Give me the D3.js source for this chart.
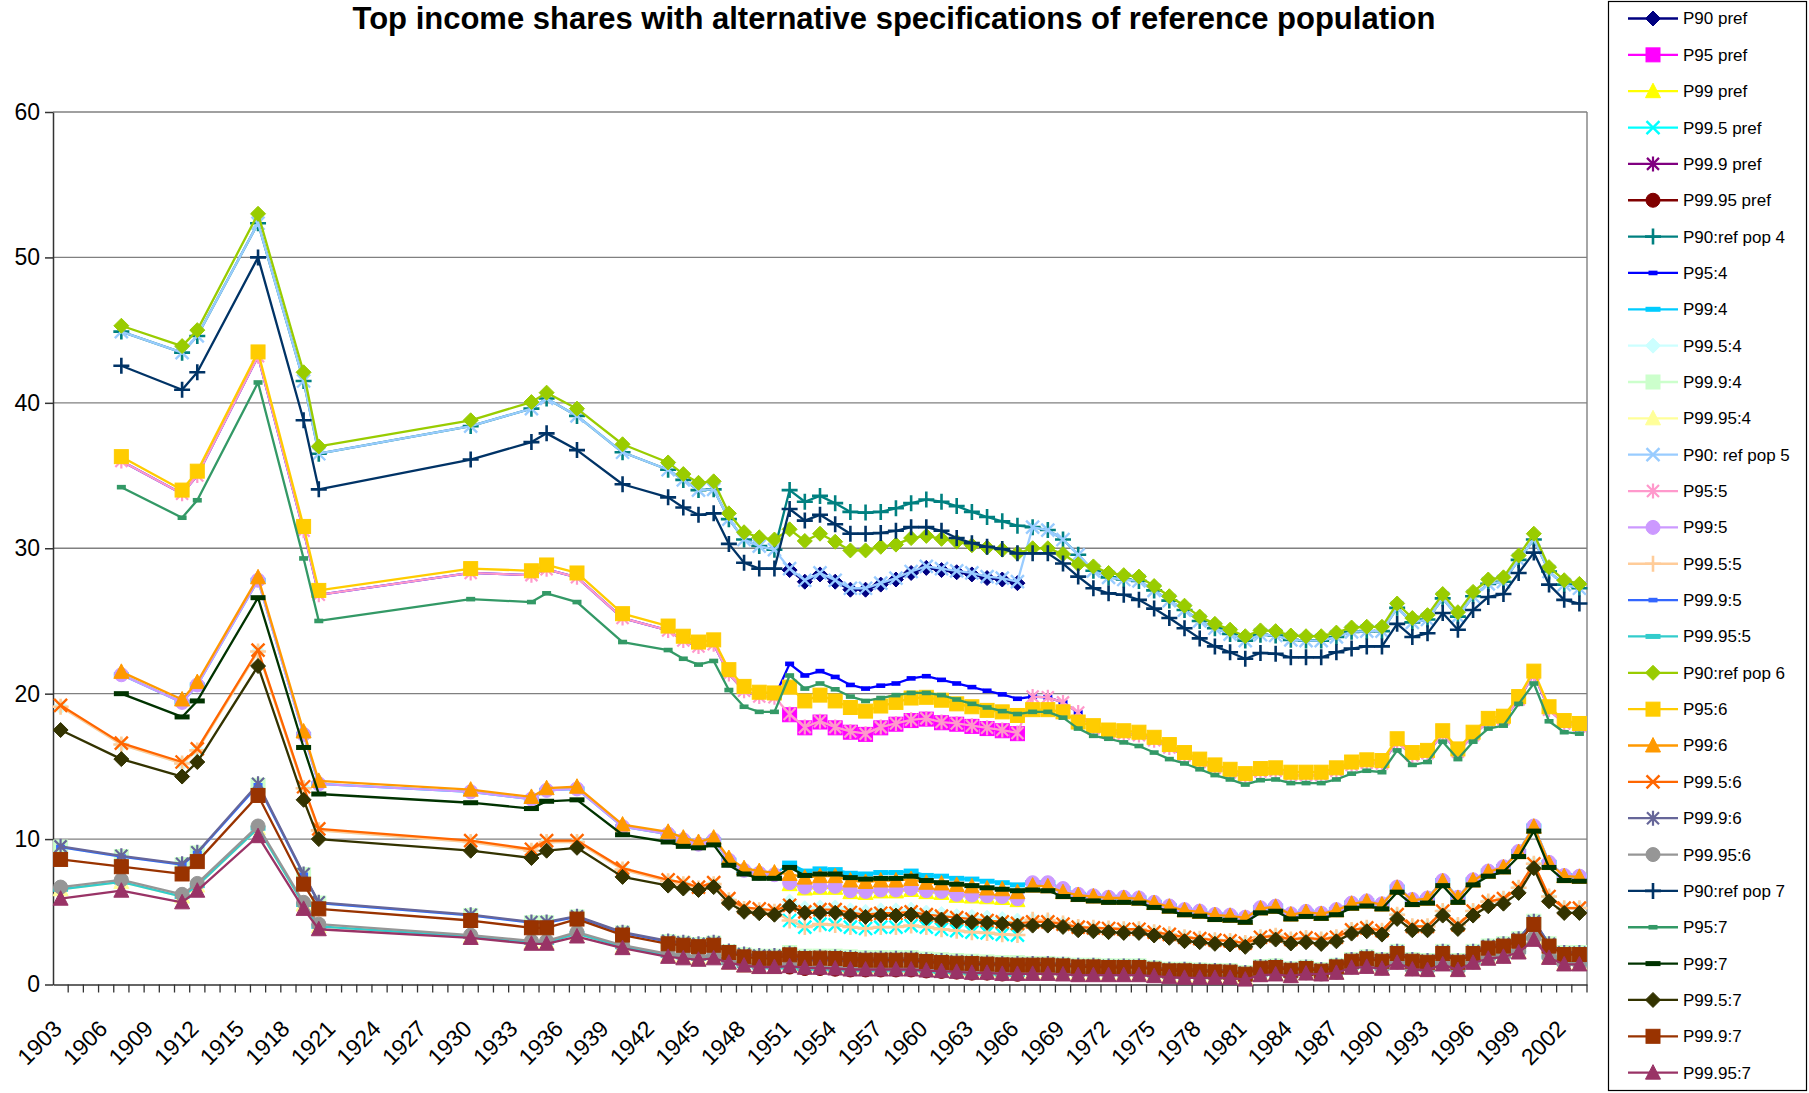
<!DOCTYPE html>
<html>
<head>
<meta charset="utf-8">
<script src="https://cdn.jsdelivr.net/npm/d3@7"></script>
<style>
  body { margin: 0; background: #fff; }
  text { font-family: Arial, "Liberation Sans", sans-serif; }
</style>
</head>
<body>
<div id="chart"></div>
<script>
// years that carry observations (gaps before 1944 are real gaps in the source)
const dataYears = [1903, 1907, 1911, 1912, 1916, 1919, 1920, 1930, 1934, 1935, 1937, 1940, 1943, 1944, 1945, 1946, 1947, 1948, 1949, 1950,
  1951, 1952, 1953, 1954, 1955, 1956, 1957, 1958, 1959, 1960, 1961, 1962, 1963, 1964, 1965, 1966,
  1967, 1968, 1969, 1970, 1971, 1972, 1973, 1974, 1975, 1976, 1977, 1978, 1979, 1980, 1981, 1982, 1983, 1984, 1985,
  1986, 1987, 1988, 1989, 1990, 1991, 1992, 1993, 1994, 1995, 1996, 1997, 1998, 1999, 2000, 2001, 2002, 2003];
const tickYears = [1903, 1906, 1909, 1912, 1915, 1918, 1921, 1924, 1927, 1930, 1933, 1936, 1939, 1942, 1945, 1948, 1951,
  1954, 1957, 1960, 1963, 1966, 1969, 1972, 1975, 1978, 1981, 1984, 1987, 1990, 1993, 1996, 1999, 2002];
const yTicks = [0, 10, 20, 30, 40, 50, 60];

// values split in three stretches: E = 1903-1950, M = 1951-1966, L = 1967-2003
const noE = [null, null, null, null, null, null, null, null, null, null, null, null, null, null, null, null, null, null, null, null];
const noL = [null, null, null, null, null, null, null, null, null, null, null, null, null, null, null, null, null, null, null,
  null, null, null, null, null, null, null, null, null, null, null, null, null, null, null, null, null, null];

// P90
const p90_prefM = [28.5, 27.7, 28.2, 27.7, 27.15, 27.15, 27.5, 27.85, 28.3, 28.65, 28.5, 28.35, 28.2, 27.95, 27.85, 27.6];
const p90_4M = [34.0, 33.2, 33.6, 33.1, 32.5, 32.45, 32.5, 32.75, 33.1, 33.35, 33.2, 32.9, 32.5, 32.15, 31.85, 31.55];
const p90_5E = [null, 44.9, 43.45, 44.6, 52.35, 41.5, 36.5, 38.4, 39.6, 40.3, 39.1, 36.6, 35.4, 34.7, 34.0, 34.05, 32.0, 30.6, 30.15, 29.9];
const p90_5M = [28.6, 27.8, 28.3, 27.8, 27.25, 27.25, 27.6, 27.95, 28.4, 28.75, 28.6, 28.45, 28.3, 28.05, 27.95, 27.7];
const p90_5L = [31.45, 31.25, 30.6, 29.55, 28.45, 28.0, 27.85, 27.75, 27.1, 26.4, 25.75, 25.0, 24.5, 24.1, 23.65, 24.05, 24.0, 23.7, 23.65,
  23.65, 23.9, 24.25, 24.3, 24.3, 25.9, 24.9, 25.1, 26.55, 25.3, 26.7, 27.55, 27.7, 29.2, 30.6, 28.4, 27.5, 27.25];
const p90_6E = [null, 45.3, 43.9, 45.0, 53.0, 42.1, 37.0, 38.8, 40.05, 40.7, 39.6, 37.15, 35.9, 35.1, 34.5, 34.6, 32.4, 31.1, 30.75, 30.6];
const p90_6M = [31.3, 30.5, 31.0, 30.45, 29.85, 29.85, 30.1, 30.25, 30.7, 30.85, 30.65, 30.45, 30.2, 30.05, 29.9, 29.65];
const p90_6L = [30.0, 30.0, 29.6, 28.9, 28.75, 28.3, 28.15, 28.05, 27.4, 26.7, 26.05, 25.3, 24.8, 24.4, 23.95, 24.35, 24.3, 24.0, 23.95,
  23.95, 24.2, 24.55, 24.6, 24.6, 26.2, 25.2, 25.4, 26.85, 25.6, 27.0, 27.85, 28.0, 29.5, 31.0, 28.7, 27.8, 27.55];
const p90_7E = [null, 42.55, 40.9, 42.1, 50.0, 38.8, 34.05, 36.1, 37.3, 37.9, 36.75, 34.4, 33.5, 32.8, 32.3, 32.4, 30.3, 29.0, 28.6, 28.6];
const p90_7M = [32.7, 31.9, 32.3, 31.65, 31.0, 31.0, 31.05, 31.2, 31.45, 31.45, 31.2, 30.7, 30.35, 30.1, 29.95, 29.65];
const p90_7L = [29.65, 29.65, 28.95, 28.05, 27.25, 26.9, 26.8, 26.45, 25.85, 25.2, 24.5, 23.8, 23.25, 22.85, 22.4, 22.8, 22.75, 22.5, 22.5,
  22.5, 22.85, 23.1, 23.25, 23.25, 24.8, 23.9, 24.15, 25.55, 24.4, 25.75, 26.65, 26.85, 28.3, 29.7, 27.5, 26.45, 26.2];

// P95
const p95_prefM = [18.55, 17.65, 18.05, 17.65, 17.35, 17.2, 17.65, 17.9, 18.15, 18.25, 18.0, 17.9, 17.75, 17.6, 17.45, 17.25];
const p95_4M = [22.05, 21.25, 21.55, 21.15, 20.6, 20.35, 20.55, 20.7, 21.05, 21.2, 20.95, 20.7, 20.45, 20.2, 19.95, 19.65];
const p95_5E = [null, 36.0, 33.75, 35.0, 43.2, 31.2, 26.8, 28.3, 28.15, 28.55, 28.0, 25.2, 24.35, 23.65, 23.25, 23.4, 21.35, 20.2, 19.8, 19.75];
const p95_5M = [18.6, 17.7, 18.1, 17.7, 17.4, 17.25, 17.7, 17.95, 18.2, 18.3, 18.05, 17.95, 17.8, 17.65, 17.5, 17.3];
const p95_5L = [19.8, 19.75, 19.4, 18.7, 17.6, 17.3, 17.25, 17.15, 16.8, 16.3, 15.75, 15.3, 14.9, 14.6, 14.3, 14.65, 14.7, 14.4, 14.4,
  14.4, 14.7, 15.1, 15.25, 15.2, 16.7, 15.75, 15.9, 17.25, 16.0, 17.15, 18.1, 18.25, 19.6, 21.35, 18.9, 17.95, 17.75];
const p95_6E = [null, 36.3, 34.0, 35.3, 43.5, 31.5, 27.1, 28.6, 28.45, 28.85, 28.3, 25.5, 24.65, 23.95, 23.55, 23.7, 21.65, 20.5, 20.1, 20.05];
const p95_6M = [20.45, 19.5, 19.9, 19.5, 19.05, 18.8, 19.15, 19.4, 19.7, 19.75, 19.55, 19.3, 19.1, 18.85, 18.75, 18.5];
const p95_6L = [18.9, 18.9, 18.75, 18.05, 17.8, 17.5, 17.45, 17.35, 17.0, 16.5, 15.95, 15.5, 15.1, 14.8, 14.5, 14.85, 14.9, 14.6, 14.6,
  14.6, 14.9, 15.3, 15.45, 15.4, 16.9, 15.95, 16.1, 17.45, 16.2, 17.35, 18.3, 18.45, 19.8, 21.55, 19.1, 18.15, 17.95];
const p95_7E = [null, 34.2, 32.1, 33.3, 41.4, 29.3, 25.0, 26.5, 26.3, 26.9, 26.3, 23.55, 23.0, 22.4, 22.0, 22.25, 20.25, 19.1, 18.75, 18.75];
const p95_7M = [21.25, 20.35, 20.7, 20.3, 19.8, 19.5, 19.7, 19.9, 20.05, 20.05, 19.9, 19.6, 19.3, 19.05, 18.8, 18.6];
const p95_7L = [18.75, 18.75, 18.35, 17.6, 17.1, 16.9, 16.65, 16.4, 15.95, 15.5, 15.2, 14.8, 14.4, 14.1, 13.75, 14.05, 14.1, 13.85, 13.85,
  13.85, 14.1, 14.5, 14.7, 14.6, 16.1, 15.1, 15.3, 16.7, 15.5, 16.7, 17.6, 17.8, 19.3, 20.7, 18.1, 17.35, 17.25];

// P99
const p99_prefM = [6.9, 6.6, 6.65, 6.65, 6.35, 6.3, 6.4, 6.4, 6.5, 6.35, 6.3, 6.1, 6.05, 6.0, 5.95, 5.8];
const p99_4M = [8.35, 7.8, 7.95, 7.9, 7.65, 7.6, 7.7, 7.7, 7.8, 7.5, 7.45, 7.3, 7.25, 7.1, 7.0, 6.85];
const p99_5E = [null, 21.3, 19.4, 20.6, 27.8, 17.2, 13.8, 13.25, 12.75, 13.35, 13.45, 10.85, 10.35, 9.95, 9.65, 9.95, 8.55, 7.85, 7.65, 7.55];
const p99_5M = [7.0, 6.7, 6.75, 6.75, 6.45, 6.4, 6.5, 6.5, 6.6, 6.45, 6.4, 6.2, 6.15, 6.1, 6.05, 5.9];
const p99_5L = [7.0, 7.0, 6.6, 6.2, 6.1, 6.0, 6.0, 5.95, 5.65, 5.4, 5.15, 5.05, 4.82, 4.77, 4.63, 5.28, 5.39, 4.86, 5.03,
  4.9, 5.15, 5.6, 5.75, 5.55, 6.7, 5.85, 5.95, 7.15, 6.0, 7.2, 7.8, 8.1, 9.15, 10.9, 8.4, 7.5, 7.45];
const p99_6E = [null, 21.5, 19.6, 20.8, 28.0, 17.4, 14.0, 13.4, 12.9, 13.5, 13.6, 11.0, 10.5, 10.1, 9.8, 10.1, 8.7, 8.0, 7.8, 7.7];
const p99_6M = [7.6, 7.35, 7.45, 7.45, 7.15, 7.05, 7.15, 7.15, 7.25, 7.0, 6.95, 6.85, 6.75, 6.6, 6.55, 6.35];
const p99_6L = [6.8, 6.75, 6.35, 6.15, 6.05, 5.95, 5.95, 5.9, 5.6, 5.35, 5.1, 5.0, 4.77, 4.72, 4.58, 5.23, 5.34, 4.81, 4.98,
  4.85, 5.1, 5.55, 5.7, 5.5, 6.65, 5.8, 5.9, 7.1, 5.95, 7.15, 7.75, 8.05, 9.1, 10.85, 8.35, 7.45, 7.4];
const p99_7E = [null, 20.0, 18.4, 19.5, 26.6, 16.3, 13.1, 12.5, 12.1, 12.6, 12.7, 10.3, 9.8, 9.5, 9.4, 9.6, 8.2, 7.6, 7.3, 7.3];
const p99_7M = [8.05, 7.5, 7.6, 7.6, 7.35, 7.25, 7.3, 7.3, 7.45, 7.15, 7.0, 6.9, 6.8, 6.65, 6.55, 6.45];
const p99_7L = [6.5, 6.45, 6.05, 5.85, 5.75, 5.65, 5.65, 5.6, 5.3, 5.05, 4.8, 4.7, 4.47, 4.42, 4.28, 4.93, 5.04, 4.51, 4.68,
  4.55, 4.8, 5.25, 5.4, 5.2, 6.35, 5.5, 5.6, 6.8, 5.65, 6.85, 7.45, 7.75, 8.8, 10.55, 8.05, 7.15, 7.1];

// P99.5
const p995_prefM = [4.4, 3.95, 4.15, 4.1, 3.95, 3.85, 3.95, 3.95, 4.05, 3.95, 3.8, 3.7, 3.6, 3.55, 3.45, 3.4];
const p995_4M = [5.7, 5.25, 5.3, 5.3, 5.1, 5.0, 5.1, 5.1, 5.15, 4.95, 4.85, 4.7, 4.65, 4.6, 4.5, 4.4];
const p995_5E = [19.1, 16.5, 15.2, 16.1, 22.9, 13.5, 10.6, 9.8, 9.2, 9.8, 9.8, 7.9, 7.1, 6.9, 6.6, 6.9, 5.8, 5.2, 5.1, 5.0];
const p995_5M = [4.4, 3.95, 4.15, 4.1, 3.95, 3.85, 3.95, 3.95, 4.05, 3.95, 3.8, 3.7, 3.6, 3.55, 3.45, 3.4];
const p995_5L = [4.45, 4.4, 4.2, 3.95, 3.9, 3.85, 3.8, 3.8, 3.6, 3.45, 3.25, 3.15, 3.05, 3.0, 2.85, 3.25, 3.35, 3.1, 3.2,
  3.1, 3.25, 3.75, 3.9, 3.7, 4.8, 4.0, 4.0, 5.05, 4.1, 5.05, 5.7, 5.9, 6.65, 8.3, 6.05, 5.25, 5.25];
const p995_6E = [19.2, 16.6, 15.3, 16.2, 23.0, 13.6, 10.7, 9.9, 9.3, 9.9, 9.9, 8.0, 7.2, 7.0, 6.7, 7.0, 5.9, 5.3, 5.2, 5.1];
const p995_6M = [5.45, 5.0, 5.15, 5.15, 4.95, 4.8, 4.9, 4.9, 5.0, 4.8, 4.7, 4.6, 4.5, 4.4, 4.3, 4.2];
const p995_6L = [4.3, 4.3, 4.15, 3.95, 3.9, 3.85, 3.8, 3.8, 3.6, 3.45, 3.25, 3.15, 3.05, 3.0, 2.85, 3.25, 3.35, 3.1, 3.2,
  3.1, 3.25, 3.75, 3.9, 3.7, 4.8, 4.0, 4.0, 5.05, 4.1, 5.05, 5.7, 5.9, 6.65, 8.3, 6.05, 5.25, 5.25];
const p995_7E = [17.5, 15.5, 14.3, 15.3, 21.9, 12.7, 10.0, 9.2, 8.7, 9.2, 9.4, 7.4, 6.8, 6.6, 6.5, 6.7, 5.6, 5.0, 4.9, 4.8];
const p995_7M = [5.38, 4.93, 4.93, 4.93, 4.74, 4.65, 4.74, 4.74, 4.81, 4.58, 4.47, 4.35, 4.28, 4.24, 4.17, 4.05];
const p995_7L = [4.05, 4.05, 3.96, 3.73, 3.66, 3.6, 3.55, 3.55, 3.37, 3.21, 2.98, 2.91, 2.8, 2.75, 2.59, 2.98, 3.09, 2.82, 2.91,
  2.79, 2.97, 3.5, 3.66, 3.43, 4.51, 3.73, 3.73, 4.74, 3.82, 4.74, 5.38, 5.56, 6.3, 8.0, 5.72, 4.92, 4.92];

// P99.9
const p999_prefM = [1.85, 1.65, 1.7, 1.65, 1.6, 1.55, 1.6, 1.6, 1.6, 1.5, 1.45, 1.4, 1.35, 1.35, 1.3, 1.25];
const p999_4M = [2.2, 1.95, 1.95, 1.95, 1.9, 1.85, 1.85, 1.85, 1.85, 1.75, 1.7, 1.65, 1.6, 1.55, 1.5, 1.5];
const p999_5E = [9.45, 8.8, 8.25, 9.05, 13.7, 7.55, 5.6, 4.75, 4.25, 4.25, 4.65, 3.55, 2.95, 2.85, 2.75, 2.85, 2.25, 2.05, 1.95, 1.95];
const p999_5M = [1.85, 1.65, 1.7, 1.65, 1.6, 1.55, 1.6, 1.6, 1.6, 1.5, 1.45, 1.4, 1.35, 1.35, 1.3, 1.25];
const p999_6E = [9.5, 8.85, 8.3, 9.1, 13.8, 7.6, 5.65, 4.8, 4.3, 4.3, 4.7, 3.6, 3.0, 2.9, 2.8, 2.9, 2.3, 2.1, 2.0, 2.0];
const p999_6M = [2.15, 1.9, 1.9, 1.9, 1.85, 1.8, 1.8, 1.8, 1.8, 1.7, 1.65, 1.6, 1.55, 1.5, 1.45, 1.45];
const p999_6L = [1.45, 1.45, 1.4, 1.33, 1.33, 1.28, 1.28, 1.28, 1.15, 1.05, 1.05, 1.0, 0.97, 0.95, 0.82, 1.23, 1.28, 1.08, 1.2,
  1.03, 1.32, 1.72, 1.9, 1.72, 2.28, 1.72, 1.65, 2.28, 1.65, 2.28, 2.65, 2.8, 3.15, 4.35, 2.8, 2.2, 2.2];
const p999_7E = [8.6, 8.1, 7.6, 8.45, 13.0, 6.9, 5.2, 4.4, 3.9, 3.9, 4.5, 3.4, 2.8, 2.7, 2.6, 2.7, 2.2, 1.9, 1.8, 1.8];
const p999_7M = [2.04, 1.79, 1.81, 1.79, 1.72, 1.67, 1.67, 1.67, 1.67, 1.58, 1.51, 1.46, 1.44, 1.4, 1.35, 1.33];
const p999_7L = [1.33, 1.33, 1.28, 1.21, 1.21, 1.17, 1.17, 1.17, 1.05, 0.94, 0.94, 0.9, 0.87, 0.85, 0.71, 1.12, 1.17, 0.98, 1.1,
  0.92, 1.21, 1.6, 1.77, 1.6, 2.13, 1.6, 1.53, 2.13, 1.53, 2.13, 2.5, 2.64, 2.98, 4.13, 2.64, 2.06, 2.06];

// P99.95
const p9995_prefM = [1.2, 1.1, 1.1, 1.05, 1.0, 1.0, 1.0, 1.0, 1.0, 0.93, 0.9, 0.85, 0.78, 0.78, 0.72, 0.7];
const p9995_4M = [1.45, 1.3, 1.3, 1.25, 1.2, 1.2, 1.2, 1.2, 1.2, 1.15, 1.1, 1.05, 1.0, 0.95, 0.92, 0.9];
const p9995_5E = [6.55, 7.05, 6.05, 6.8, 10.75, 5.5, 4.0, 3.3, 2.9, 2.9, 3.5, 2.6, 2.0, 1.9, 1.8, 1.9, 1.5, 1.3, 1.2, 1.2];
const p9995_5M = [1.2, 1.1, 1.1, 1.05, 1.0, 1.0, 1.0, 1.0, 1.0, 0.93, 0.9, 0.85, 0.78, 0.78, 0.72, 0.7];
const p9995_6E = [6.7, 7.2, 6.2, 6.95, 10.9, 5.65, 4.15, 3.4, 3.0, 3.0, 3.6, 2.7, 2.1, 2.0, 1.9, 2.0, 1.6, 1.4, 1.3, 1.3];
const p9995_6M = [1.4, 1.25, 1.25, 1.2, 1.15, 1.15, 1.15, 1.15, 1.15, 1.1, 1.05, 1.0, 0.95, 0.9, 0.88, 0.85];
const p9995_6L = [0.85, 0.85, 0.8, 0.76, 0.76, 0.75, 0.75, 0.75, 0.68, 0.6, 0.58, 0.56, 0.55, 0.54, 0.45, 0.72, 0.76, 0.63, 0.8,
  0.72, 0.85, 1.2, 1.27, 1.13, 1.55, 1.08, 1.04, 1.45, 1.04, 1.55, 1.84, 1.97, 2.28, 3.2, 1.9, 1.45, 1.45];
const p9995_7E = [5.9, 6.45, 5.65, 6.45, 10.2, 5.2, 3.8, 3.2, 2.8, 2.8, 3.3, 2.5, 1.9, 1.8, 1.7, 1.8, 1.5, 1.3, 1.2, 1.2];
const p9995_7M = [1.26, 1.15, 1.15, 1.1, 1.03, 1.03, 1.03, 1.03, 1.03, 0.96, 0.92, 0.87, 0.8, 0.8, 0.73, 0.73];
const p9995_7L = [0.73, 0.73, 0.69, 0.64, 0.64, 0.64, 0.64, 0.64, 0.57, 0.5, 0.46, 0.46, 0.46, 0.46, 0.34, 0.64, 0.69, 0.57, 0.75,
  0.69, 0.8, 1.15, 1.21, 1.08, 1.49, 1.03, 0.99, 1.38, 0.99, 1.49, 1.77, 1.9, 2.2, 3.07, 1.83, 1.38, 1.38];

const seriesNames = ["P90 pref", "P95 pref", "P99 pref", "P99.5 pref", "P99.9 pref", "P99.95 pref",
  "P90:ref pop 4", "P95:4", "P99:4", "P99.5:4", "P99.9:4", "P99.95:4",
  "P90: ref pop 5", "P95:5", "P99:5", "P99.5:5", "P99.9:5", "P99.95:5",
  "P90:ref pop 6", "P95:6", "P99:6", "P99.5:6", "P99.9:6", "P99.95:6",
  "P90:ref pop 7", "P95:7", "P99:7", "P99.5:7", "P99.9:7", "P99.95:7"];

// ref pop 4 and 5 share the same figures outside 1951-1966
const seriesValues = [
  [...noE, ...p90_prefM, ...noL], [...noE, ...p95_prefM, ...noL], [...noE, ...p99_prefM, ...noL],
  [...noE, ...p995_prefM, ...noL], [...noE, ...p999_prefM, ...noL], [...noE, ...p9995_prefM, ...noL],
  [...p90_5E, ...p90_4M, ...p90_5L], [...p95_5E, ...p95_4M, ...p95_5L], [...p99_5E, ...p99_4M, ...p99_5L],
  [...p995_5E, ...p995_4M, ...p995_5L], [...p999_5E, ...p999_4M, ...p999_6L], [...p9995_5E, ...p9995_4M, ...p9995_6L],
  [...p90_5E, ...p90_5M, ...p90_5L], [...p95_5E, ...p95_5M, ...p95_5L], [...p99_5E, ...p99_5M, ...p99_5L],
  [...p995_5E, ...p995_5M, ...p995_5L], [...p999_5E, ...p999_5M, ...p999_6L], [...p9995_5E, ...p9995_5M, ...p9995_6L],
  [...p90_6E, ...p90_6M, ...p90_6L], [...p95_6E, ...p95_6M, ...p95_6L], [...p99_6E, ...p99_6M, ...p99_6L],
  [...p995_6E, ...p995_6M, ...p995_6L], [...p999_6E, ...p999_6M, ...p999_6L], [...p9995_6E, ...p9995_6M, ...p9995_6L],
  [...p90_7E, ...p90_7M, ...p90_7L], [...p95_7E, ...p95_7M, ...p95_7L], [...p99_7E, ...p99_7M, ...p99_7L],
  [...p995_7E, ...p995_7M, ...p995_7L], [...p999_7E, ...p999_7M, ...p999_7L], [...p9995_7E, ...p9995_7M, ...p9995_7L]
];

// Excel 2003 default series colours and marker cycle
const colors = ["#000080", "#FF00FF", "#FFFF00", "#00FFFF", "#800080", "#800000",
  "#008080", "#0000FF", "#00CCFF", "#CCFFFF", "#CCFFCC", "#FFFF99",
  "#99CCFF", "#FF99CC", "#CC99FF", "#FFCC99", "#3366FF", "#33CCCC",
  "#99CC00", "#FFCC00", "#FF9900", "#FF6600", "#666699", "#969696",
  "#003366", "#339966", "#003300", "#333300", "#993300", "#993366"];
const markerCycle = ["diamond", "square", "triangle", "x", "star", "circle", "plus", "dash", "longdash"];

const width = 1809, height = 1093;
const plot = { left: 53, right: 1587, top: 112, bottom: 984.5 };

const svg = d3.select("#chart").append("svg")
  .attr("width", width)
  .attr("height", height)
  .style("display", "block");

svg.append("rect").attr("width", width).attr("height", height).attr("fill", "#fff");

const x = d3.scaleBand().domain(d3.range(1903, 2004)).range([plot.left, plot.right]);
const cx = (yr) => x(yr) + x.bandwidth() / 2;
const y = d3.scaleLinear().domain([0, 60]).range([plot.bottom, plot.top]);

// title
svg.append("text")
  .attr("x", 894)
  .attr("y", 29)
  .attr("text-anchor", "middle")
  .attr("font-size", "31px")
  .attr("font-weight", "bold")
  .text("Top income shares with alternative specifications of reference population");

// gridlines and right border of the plot area
svg.append("g")
  .selectAll("line")
  .data(yTicks.filter((d) => d > 0))
  .enter()
  .append("line")
  .attr("x1", plot.left)
  .attr("x2", plot.right)
  .attr("y1", (d) => y(d))
  .attr("y2", (d) => y(d))
  .attr("stroke", "#808080")
  .attr("stroke-width", 1.4);
svg.append("line")
  .attr("x1", plot.right).attr("x2", plot.right)
  .attr("y1", plot.top).attr("y2", plot.bottom)
  .attr("stroke", "#808080").attr("stroke-width", 1.4);

// y axis
const yAxis = svg.append("g")
  .attr("transform", `translate(${plot.left},0)`)
  .call(d3.axisLeft(y).tickValues(yTicks).tickSize(8).tickSizeOuter(0).tickPadding(5));
yAxis.selectAll("text").attr("font-size", "23px").attr("font-family", "Arial, 'Liberation Sans', sans-serif").attr("fill", "#000");
yAxis.selectAll("line, path").attr("stroke", "#333").attr("stroke-width", 1.5);

// x axis: tick marks sit between categories, labels every third year
const xAxis = svg.append("g")
  .attr("transform", `translate(0,${plot.bottom})`)
  .call(d3.axisBottom(x).tickValues(tickYears).tickSize(0).tickSizeOuter(0).tickFormat(d3.format("d")));
xAxis.select(".domain").attr("stroke", "#333").attr("stroke-width", 1.5);
xAxis.selectAll("text")
  .attr("font-size", "23px")
  .attr("font-family", "Arial, 'Liberation Sans', sans-serif")
  .attr("fill", "#000")
  .attr("text-anchor", "end")
  .attr("y", 0)
  .attr("dy", "0.72em")
  .attr("transform", "translate(-9,34) rotate(-45)");
svg.append("g")
  .selectAll("line")
  .data(d3.range(1903, 2004))
  .enter()
  .append("line")
  .attr("x1", (d) => x(d) + x.bandwidth())
  .attr("x2", (d) => x(d) + x.bandwidth())
  .attr("y1", plot.bottom)
  .attr("y2", plot.bottom + 8)
  .attr("stroke", "#333")
  .attr("stroke-width", 1.3);

// marker shapes, roughly Excel's size 7 markers
function drawMarker(g, type, color) {
  if (type === "diamond") {
    g.append("path").attr("d", "M0,-7.5L7.5,0L0,7.5L-7.5,0Z").attr("fill", color).attr("stroke", color);
  } else if (type === "square") {
    g.append("rect").attr("x", -7).attr("y", -7).attr("width", 14).attr("height", 14).attr("fill", color).attr("stroke", color);
  } else if (type === "triangle") {
    g.append("path").attr("d", "M0,-8L7.5,6.5L-7.5,6.5Z").attr("fill", color).attr("stroke", color);
  } else if (type === "circle") {
    g.append("circle").attr("r", 7).attr("fill", color).attr("stroke", color);
  } else if (type === "x") {
    g.append("path").attr("d", "M-6.5,-6.5L6.5,6.5M-6.5,6.5L6.5,-6.5").attr("stroke", color).attr("stroke-width", 2.4);
  } else if (type === "star") {
    g.append("path").attr("d", "M-6,-6L6,6M-6,6L6,-6M0,-7.5L0,7.5").attr("stroke", color).attr("stroke-width", 2.2);
  } else if (type === "plus") {
    g.append("path").attr("d", "M-8,0L8,0M0,-8L0,8").attr("stroke", color).attr("stroke-width", 2.6);
  } else if (type === "dash") {
    g.append("rect").attr("x", -4.5).attr("y", -2.3).attr("width", 9).attr("height", 4.6).attr("fill", color);
  } else if (type === "longdash") {
    g.append("rect").attr("x", -7.5).attr("y", -2.5).attr("width", 15).attr("height", 5).attr("fill", color);
  }
}

const line = d3.line()
  .defined((d) => d.v != null)
  .x((d) => cx(d.year))
  .y((d) => y(d.v));

// series drawn in legend order, so ref pop 7 ends up on top
const seriesG = svg.append("g");
seriesNames.forEach(function (name, i) {
  const pts = dataYears.map((yr, j) => ({ year: yr, v: seriesValues[i][j] }));
  const color = colors[i];
  const g = seriesG.append("g").attr("class", "series");
  g.append("path")
    .datum(pts)
    .attr("d", line)
    .attr("fill", "none")
    .attr("stroke", color)
    .attr("stroke-width", 2.3)
    .attr("stroke-linejoin", "round");
  g.selectAll("g.pt")
    .data(pts.filter((d) => d.v != null))
    .enter()
    .append("g")
    .attr("class", "pt")
    .attr("transform", (d) => `translate(${cx(d.year)},${y(d.v)})`)
    .each(function () {
      drawMarker(d3.select(this), markerCycle[i % 9], color);
    });
});

// legend box on the right
const legend = svg.append("g").attr("class", "legend");
legend.append("rect")
  .attr("x", 1608.5)
  .attr("y", 1.5)
  .attr("width", 198)
  .attr("height", 1089)
  .attr("fill", "#fff")
  .attr("stroke", "#000")
  .attr("stroke-width", 1.2);

const items = legend.selectAll("g.item")
  .data(seriesNames)
  .enter()
  .append("g")
  .attr("class", "item")
  .attr("transform", (d, i) => `translate(1628,${18.5 + i * 36.35})`);
items.append("line")
  .attr("x1", 0)
  .attr("x2", 50)
  .attr("stroke", (d, i) => colors[i])
  .attr("stroke-width", 2.3);
items.each(function (d, i) {
  const m = d3.select(this).append("g").attr("transform", "translate(25,0)");
  drawMarker(m, markerCycle[i % 9], colors[i]);
});
items.append("text")
  .attr("x", 55)
  .attr("dy", "0.35em")
  .attr("font-size", "17px")
  .text((d) => d);
</script>
</body>
</html>
